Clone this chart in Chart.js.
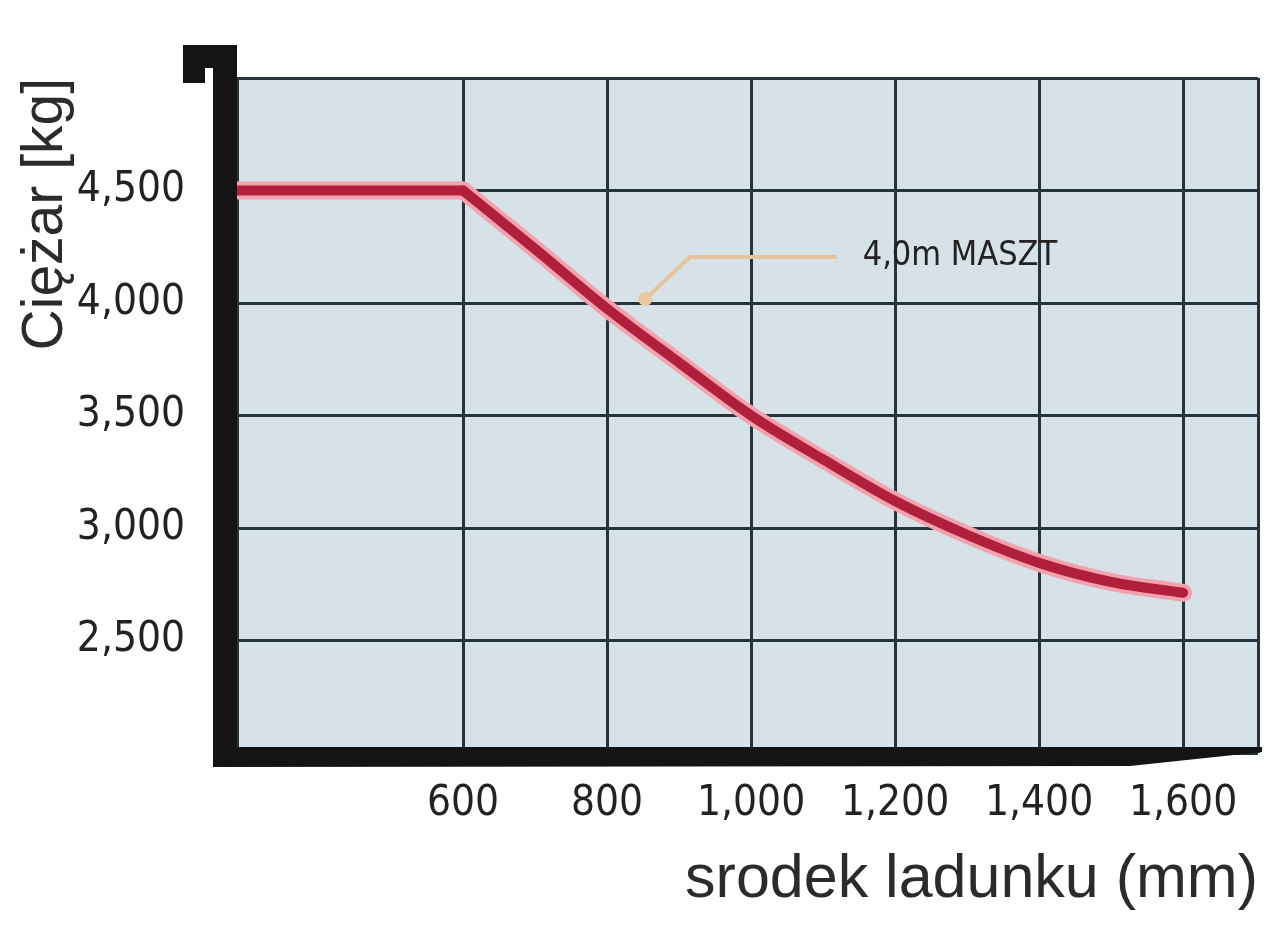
<!DOCTYPE html>
<html>
<head>
<meta charset="utf-8">
<script src="https://cdn.jsdelivr.net/npm/chart.js@4.4.1/dist/chart.umd.min.js"></script>
<style>
html,body{margin:0;padding:0;background:#fff}
#wrap{width:1274px;height:928px;position:relative}
</style>
</head>
<body>
<div id="wrap"><canvas id="chart-capacity"></canvas></div>
<script>
/* ===== DATA ===== */
const xMin = 286, xMax = 1704;
const yMin = 2000, yMax = 5000, yStep = 500;
const xTickValues = [600, 800, 1000, 1200, 1400, 1600];
const flatX = [286, 600];
const flatKg = [4500, 4500];
const curveX = [600, 700, 800, 900, 1000, 1100, 1200, 1300, 1400, 1500, 1600];
const curveKg = [4500, 4240, 3975, 3735, 3500, 3305, 3120, 2970, 2845, 2760, 2712];
const leaderX = [853, 915, 1119];
const leaderKg = [4018, 4204, 4204];
const mastLabel = '4,0m MASZT';
const mastLabelAt = [1155, 4208];
const yTitle = 'Ciężar [kg]';
const xTitle = 'srodek ladunku (mm)';

const narrow = "'DejaVu Sans Condensed','Liberation Sans Narrow',sans-serif";
const plain = "'Liberation Sans',Arial,sans-serif";
const fmt = v => v.toLocaleString('en-US');
const pts = (xs, ys) => xs.map((x, i) => ({ x, y: ys[i] }));

/* ===== PLUGINS ===== */
const plotBg = {
    id: 'plotBg',
    beforeDraw(chart) {
        const { ctx, chartArea: a } = chart;
        ctx.save();
        ctx.fillStyle = '#d7e1e8';
        ctx.fillRect(a.left, a.top, a.right - a.left, a.bottom - a.top);
        ctx.restore();
    }
};

// heavy black L-frame with the little hook on top and the tapered end
const frame = {
    id: 'frame',
    afterDraw(chart) {
        const { ctx, chartArea: a } = chart;
        const L = a.left, B = a.bottom, T = a.top, R = a.right;
        ctx.save();
        ctx.fillStyle = '#141414';
        ctx.fillRect(L - 24, T - 33, 24, B - T + 47);
        ctx.fillRect(L - 54, T - 33, 54, 23);
        ctx.fillRect(L - 54, T - 33, 22, 38);
        ctx.beginPath();
        ctx.moveTo(L - 24, B - 6);
        ctx.lineTo(R + 4, B - 6);
        ctx.lineTo(R + 4, B - 1);
        ctx.lineTo(R - 128, B + 13);
        ctx.lineTo(L - 24, B + 14);
        ctx.closePath();
        ctx.fill();
        ctx.restore();
    }
};

const mastNote = {
    id: 'mastNote',
    afterDatasetsDraw(chart) {
        const { ctx, scales } = chart;
        ctx.save();
        ctx.font = '34px ' + narrow;
        ctx.fillStyle = '#222';
        ctx.textAlign = 'left';
        ctx.textBaseline = 'middle';
        ctx.fillText(mastLabel, scales.x.getPixelForValue(mastLabelAt[0]), scales.y.getPixelForValue(mastLabelAt[1]));
        ctx.restore();
    }
};

/* ===== CHART ===== */
const core = '#b01f3b', halo = '#f3a3ae';
new Chart(document.getElementById('chart-capacity'), {
    type: 'line',
    data: {
        datasets: [
            { label: 'flat', data: pts(flatX, flatKg), borderColor: core, borderWidth: 10, pointRadius: 0, tension: 0, borderCapStyle: 'round', order: 1 },
            { label: 'curve', data: pts(curveX, curveKg), borderColor: core, borderWidth: 10, pointRadius: 0, cubicInterpolationMode: 'monotone', borderCapStyle: 'round', order: 1 },
            { label: 'flatHalo', data: pts(flatX, flatKg), borderColor: halo, borderWidth: 18, pointRadius: 0, tension: 0, borderCapStyle: 'round', order: 2 },
            { label: 'curveHalo', data: pts(curveX, curveKg), borderColor: halo, borderWidth: 18, pointRadius: 0, cubicInterpolationMode: 'monotone', borderCapStyle: 'round', order: 2 },
            { label: 'leader', data: pts(leaderX, leaderKg), borderColor: '#e6c49c', borderWidth: 4, tension: 0, pointRadius: [7, 0, 0], pointBackgroundColor: '#eac79e', pointBorderWidth: 0, order: 3 }
        ]
    },
    options: {
        responsive: true, maintainAspectRatio: false, animation: false,
        layout: { padding: { top: 78, right: 16, left: 0, bottom: 0 } },
        plugins: { legend: { display: false }, tooltip: { enabled: false } },
        scales: {
            x: {
                type: 'linear', min: xMin, max: xMax,
                afterBuildTicks: s => { s.ticks = [xMin, ...xTickValues, xMax].map(v => ({ value: v })); },
                afterFit: s => { s.height = 175; s.paddingLeft = 0; s.paddingRight = 0; },
                ticks: { autoSkip: false, maxRotation: 0, padding: 26, color: '#222', font: { family: narrow, size: 42 },
                    callback: v => xTickValues.includes(v) ? fmt(v) : '' },
                grid: { color: '#25333a', lineWidth: 3, drawTicks: false },
                border: { display: false },
                title: { display: true, text: xTitle, align: 'end', color: '#2b2b2b', font: { family: plain, size: 61 }, padding: { top: 0, bottom: 11 } }
            },
            y: {
                min: yMin, max: yMax,
                afterFit: s => { s.width = 237; s.paddingTop = 0; s.paddingBottom = 0; },
                ticks: { stepSize: yStep, padding: 52, color: '#222', font: { family: narrow, size: 42 },
                    callback: v => (v === yMin || v === yMax) ? '' : fmt(v) },
                grid: { color: '#25333a', lineWidth: 3, drawTicks: false },
                border: { display: false },
                title: { display: true, text: yTitle, align: 'end', color: '#2b2b2b', font: { family: plain, size: 57 }, padding: { top: 12, bottom: 0 } }
            }
        }
    },
    plugins: [plotBg, mastNote, frame]
});
</script>
</body>
</html>
